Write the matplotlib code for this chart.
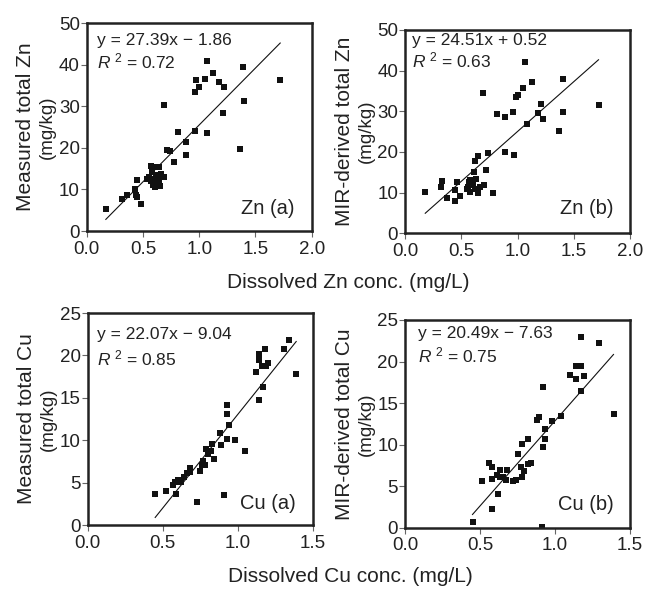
import matplotlib
matplotlib.use("Agg")
import matplotlib.pyplot as plt
import numpy as np

plt.rcParams["font.family"] = ["Liberation Sans", "DejaVu Sans"]
plt.rcParams["mathtext.fontset"] = "custom"
plt.rcParams["mathtext.rm"] = "Liberation Sans"
plt.rcParams["mathtext.it"] = "Liberation Sans:italic"

# ---- data ----
zn_a_x = [0.17, 0.31, 0.36, 0.43, 0.44, 0.445, 0.45, 0.48, 0.54, 0.55, 0.57, 0.57, 0.58,
          0.59, 0.60, 0.60, 0.61, 0.62, 0.63, 0.64, 0.64, 0.65, 0.66, 0.69, 0.69, 0.71,
          0.74, 0.78, 0.81, 0.88, 0.88, 0.96, 0.96, 0.975, 1.00, 1.05, 1.07, 1.07, 1.12,
          1.18, 1.22, 1.21, 1.36, 1.39, 1.40, 1.72]
zn_a_y = [5.3, 7.6, 8.6, 10.0, 8.6, 8.2, 12.2, 6.6, 12.6, 13.0, 15.7, 12.0, 14.2,
          11.0, 12.5, 15.5, 10.6, 13.5, 11.5, 15.3, 12.2, 10.8, 13.8, 13.0, 30.4, 19.6,
          19.2, 16.5, 23.8, 21.5, 18.4, 24.1, 33.4, 36.3, 34.6, 36.6, 40.9, 23.7, 38.0,
          35.8, 34.6, 28.5, 19.7, 39.4, 31.4, 36.3]

zn_b_x = [0.18, 0.32, 0.33, 0.37, 0.445, 0.46, 0.445, 0.49, 0.55, 0.56, 0.57, 0.58, 0.58,
          0.59, 0.60, 0.61, 0.62, 0.62, 0.63, 0.65, 0.65, 0.67, 0.70, 0.69, 0.72, 0.74,
          0.78, 0.82, 0.89, 0.89, 0.96, 0.97, 0.985, 1.00, 1.05, 1.07, 1.08, 1.13, 1.18,
          1.21, 1.23, 1.37, 1.40, 1.40, 1.72]
zn_b_y = [10.2, 11.4, 12.9, 8.6, 10.6, 12.5, 8.0, 9.2, 10.9, 11.5, 12.6, 10.2, 13.0,
          11.8, 12.2, 15.0, 17.7, 11.0, 13.4, 19.0, 9.8, 11.4, 11.8, 34.6, 15.6, 19.7,
          10.0, 29.4, 20.1, 28.5, 29.8, 19.2, 33.4, 34.1, 35.8, 42.2, 26.8, 37.2, 29.6,
          31.7, 28.0, 25.2, 38.0, 29.8, 31.6]

cu_a_x = [0.45, 0.52, 0.57, 0.58, 0.59, 0.60, 0.62, 0.64, 0.66, 0.68, 0.68, 0.73, 0.75,
          0.76, 0.78, 0.77, 0.79, 0.80, 0.82, 0.83, 0.84, 0.88, 0.89, 0.91, 0.93, 0.93,
          0.94, 0.93, 0.98, 1.05, 1.12, 1.14, 1.17, 1.14, 1.14, 1.18, 1.16, 1.19, 1.20,
          1.31, 1.34, 1.39]
cu_a_y = [3.6, 4.0, 4.7, 5.1, 3.7, 5.3, 5.1, 5.7, 6.1, 6.7, 6.3, 2.7, 6.4,
          7.1, 7.1, 7.6, 9.0, 8.4, 8.7, 9.6, 7.8, 10.8, 9.4, 3.5, 14.1, 13.1,
          11.8, 10.2, 10.0, 8.7, 18.0, 14.7, 16.3, 19.4, 20.2, 20.8, 18.8, 18.8, 19.1,
          20.8, 21.8, 17.8]

cu_b_x = [0.45, 0.51, 0.56, 0.58, 0.58, 0.58, 0.62, 0.61, 0.63, 0.63, 0.65, 0.67, 0.68,
          0.72, 0.74, 0.75, 0.77, 0.78, 0.79, 0.78, 0.82, 0.82, 0.84, 0.88, 0.89, 0.91,
          0.92, 0.93, 0.93, 0.92, 0.98, 1.04, 1.10, 1.14, 1.17, 1.14, 1.19, 1.17, 1.17,
          1.29, 1.39]
cu_b_y = [0.7, 5.6, 7.8, 7.3, 5.9, 2.2, 4.1, 6.4, 6.9, 6.1, 6.1, 5.7, 6.9,
          5.6, 5.8, 8.9, 7.3, 6.1, 6.8, 10.1, 10.7, 7.7, 7.8, 13.0, 13.3, 0.1,
          9.7, 10.7, 11.9, 16.9, 12.9, 13.5, 18.4, 19.5, 19.5, 17.9, 18.3, 16.4, 23.0,
          22.2, 13.7]

# regression coefficients (slope, intercept) as printed
fits = [(27.39, -1.86), (24.51, 0.52), (22.07, -9.04), (20.49, -7.63)]
eq_text = ["y = 27.39x \u2212 1.86", "y = 24.51x + 0.52", "y = 22.07x \u2212 9.04", "y = 20.49x \u2212 7.63"]
r2_text = ["0.72", "0.63", "0.85", "0.75"]
panel_tag = ["Zn (a)", "Zn (b)", "Cu (a)", "Cu (b)"]
ylab = ["Measured total Zn", "MIR-derived total Zn", "Measured total Cu", "MIR-derived total Cu"]

W, H = 647, 593
fig = plt.figure(figsize=(W / 100, H / 100), dpi=100)

def rect(l, t, r, b):
    return [l / W, 1 - b / H, (r - l) / W, (b - t) / H]

frames = [(86.7, 23.3, 311.7, 231), (405, 30, 630, 233.3),
          (87.7, 313, 312.7, 525), (405, 320, 630, 527.7)]
eq_pos = [(0.044, 0.915, 0.815), (0.03, 0.95, 0.85), (0.04, 0.90, 0.786), (0.058, 0.936, 0.83)]
tag_pos = [(0.684, 0.11), (0.69, 0.123), (0.677, 0.10), (0.679, 0.113)]
data = [(zn_a_x, zn_a_y), (zn_b_x, zn_b_y), (cu_a_x, cu_a_y), (cu_b_x, cu_b_y)]

for i, (fr, (xs, ys)) in enumerate(zip(frames, data)):
    ax = fig.add_axes(rect(*fr))
    xs = np.array(xs); ys = np.array(ys)
    m, c = fits[i]
    lx = np.array([xs.min(), xs.max()])
    ax.plot(lx, m * lx + c, color="#111", lw=0.8)
    ax.plot(xs, ys, "s", color="#111", ms=5.0, mew=0)
    if i < 2:
        ax.set_xlim(0, 2.0); ax.set_ylim(0, 50)
        ax.set_xticks([0, 0.5, 1.0, 1.5, 2.0]); ax.set_yticks(range(0, 51, 10))
    else:
        ax.set_xlim(0, 1.5); ax.set_ylim(0, 25)
        ax.set_xticks([0, 0.5, 1.0, 1.5]); ax.set_yticks(range(0, 26, 5))
    ax.set_xticklabels(["%.1f" % v for v in ax.get_xticks()])
    for s in ax.spines.values():
        s.set_linewidth(1.8); s.set_color("#222")
    ax.tick_params(direction="out", length=4, width=0.8, color="#666",
                   labelsize=13.5, labelcolor="#222")
    ax.tick_params(axis="y", pad=1)
    ax.tick_params(axis="x", pad=3)
    ex, ey, ry = eq_pos[i]
    ax.text(ex, ey, eq_text[i], transform=ax.transAxes, fontsize=12.5, va="center", color="#222")
    ax.text(ex, ry, r"$R^{\ 2}$ = " + r2_text[i], transform=ax.transAxes, fontsize=12.5,
            va="center", color="#222")
    ax.text(tag_pos[i][0], tag_pos[i][1], panel_tag[i], transform=ax.transAxes,
            fontsize=14.5, va="center", color="#222")
    # y labels (two lines)
    l, t, r, b = fr
    yc = 1 - (t + b) / 2 / H
    fig.text((l - 61) / W, yc, ylab[i], rotation=90, ha="center", va="center",
             fontsize=15, color="#222")
    fig.text((l - 39) / W, yc, "(mg/kg)", rotation=90, ha="center", va="center",
             fontsize=13.5, color="#222")

fig.text(348.5 / W, 1 - 282 / H, "Dissolved Zn conc. (mg/L)", ha="center", va="center",
         fontsize=15, color="#222")
fig.text(350 / W, 1 - 577 / H, "Dissolved Cu conc. (mg/L)", ha="center", va="center",
         fontsize=15, color="#222")

fig.savefig("out.png", dpi=100)
